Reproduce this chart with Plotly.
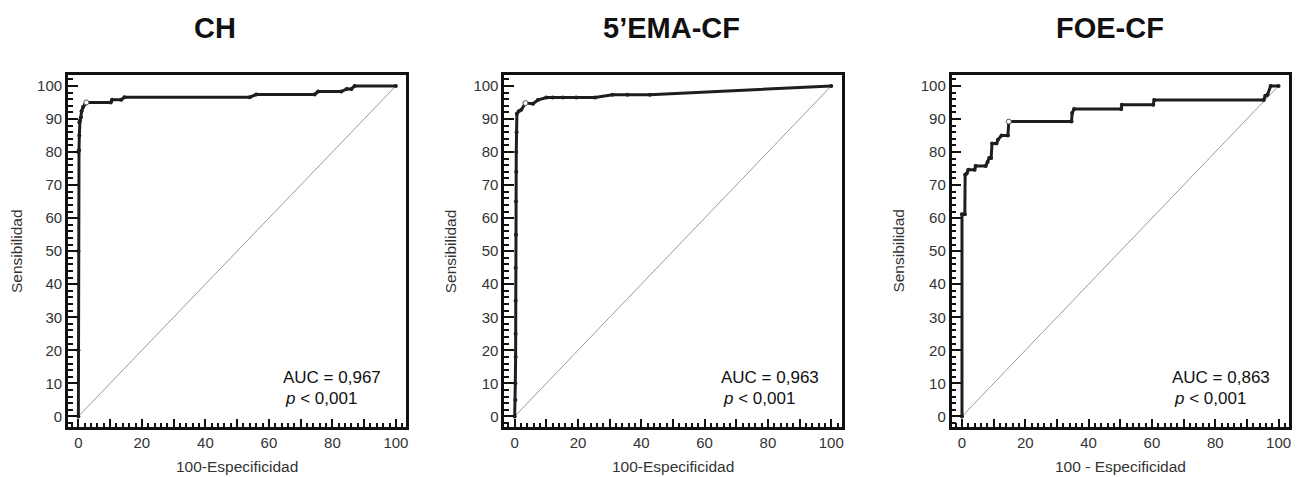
import plotly.graph_objects as go

W, H = 1303, 477

titles = ["CH", "5\u2019EMA-CF", "FOE-CF"]
auc_texts = ["AUC = 0,967", "AUC = 0,963", "AUC = 0,863"]
x_titles = ["100-Especificidad", "100-Especificidad", "100 - Especificidad"]
y_title = "Sensibilidad"

# ROC curve vertices (100-Especificidad, Sensibilidad)
ch_x = [0, 0, 0, 0, 0.2, 0.3, 0.3, 0.5, 0.8, 1.0, 1.5, 2.2, 2.5, 10.2, 10.6, 13.5, 14.5,
        54.0, 56.0, 74.4, 75.5, 82.8, 84.5, 86.0, 87.0, 100]
ch_y = [0, 20, 50, 80, 80.5, 85, 89, 89.5, 90.5, 92.3, 93.6, 94.6, 95.0, 95.0, 95.8, 95.8, 96.6,
        96.6, 97.4, 97.4, 98.3, 98.3, 99.1, 99.1, 100, 100]

ema_x = [0, 0.2, 0.2, 0.3, 0.3, 0.3, 0.3, 0.4, 0.4, 0.5, 0.5, 0.6, 0.7, 1.3, 2.1, 3.4, 5.8, 7.3,
         10.0, 12.0, 15.2, 19.4, 25.4, 30.9, 35.6, 42.7, 100]
ema_y = [0, 5, 10, 18, 25, 35, 45, 55, 65, 74, 80, 86, 91.6, 92.3, 92.8, 94.8, 94.6, 95.7,
         96.5, 96.5, 96.5, 96.5, 96.5, 97.3, 97.3, 97.3, 100]

foe_x = [0, 0, 0.9, 1.0, 1.5, 2.0, 4.0, 4.3, 7.5, 8.1, 8.6, 9.2, 9.5, 10.9, 11.4, 12.5, 14.5,
         14.8, 34.6, 34.8, 35.4, 50.3, 50.5, 60.4, 60.7, 95.3, 95.8, 96.5, 97.5, 100]
foe_y = [0, 61.2, 61.2, 73.1, 73.5, 74.6, 74.6, 75.8, 75.8, 77.0, 78.2, 78.2, 82.6, 82.6, 83.8,
         85.0, 85.0, 89.2, 89.2, 91.8, 93.0, 93.0, 94.3, 94.3, 95.7, 95.7, 97.0, 97.3, 100, 100]

# optimal cut-off points (open circles)
cut_x = [2.5, 3.4, 14.8]
cut_y = [95.0, 94.8, 89.2]

curves = [(ch_x, ch_y), (ema_x, ema_y), (foe_x, foe_y)]

x_domains = [[68 / W, 407 / W], [505 / W, 843 / W], [953 / W, 1291 / W]]
y_domain = [1 - 427 / H, 1 - 75 / H]

title_cx = [215, 673, 1112]
ytitle_cx = [17, 452, 900]
auc_left = [281, 720, 1172]

fig = go.Figure()
tick_font = dict(family="Liberation Sans, Arial, sans-serif", size=15, color="#333333")

annotations = []
for i in range(3):
    xa = "x" if i == 0 else f"x{i+1}"
    ya = "y" if i == 0 else f"y{i+1}"
    cx, cy = curves[i]
    fig.add_trace(go.Scatter(x=[0, 100], y=[0, 100], mode="lines",
                             line=dict(color="#9a9a9a", width=1),
                             xaxis=xa, yaxis=ya, showlegend=False, hoverinfo="skip"))
    fig.add_trace(go.Scatter(x=cx, y=cy, mode="lines+markers",
                             line=dict(color="#1e1e1e", width=3),
                             marker=dict(size=4, color="#1e1e1e"),
                             xaxis=xa, yaxis=ya, showlegend=False))
    fig.add_trace(go.Scatter(x=[cut_x[i]], y=[cut_y[i]], mode="markers",
                             marker=dict(size=5, color="white", symbol="circle",
                                         line=dict(color="#555555", width=1)),
                             xaxis=xa, yaxis=ya, showlegend=False))

    ax_common = dict(showline=True, linecolor="#111111", linewidth=2.5, mirror=True,
                     showgrid=False, zeroline=False, ticks="inside", tickcolor="#111111",
                     tickwidth=2, tickfont=tick_font)
    xkey = "xaxis" if i == 0 else f"xaxis{i+1}"
    ykey = "yaxis" if i == 0 else f"yaxis{i+1}"
    fig.update_layout({
        xkey: dict(ax_common, domain=x_domains[i], range=[-3.3, 103.3], anchor=ya,
                   tickmode="array", tickvals=list(range(0, 101, 10)),
                   ticktext=[str(v) if v % 20 == 0 else "" for v in range(0, 101, 10)],
                   ticklen=8,
                   minor=dict(dtick=2, tick0=0, ticks="inside", ticklen=4, tickwidth=1.5,
                              tickcolor="#111111", showgrid=False)),
        ykey: dict(ax_common, domain=y_domain, range=[-3.2, 103.3], anchor=xa,
                   tickmode="array", tickvals=list(range(0, 101, 10)),
                   ticklen=10,
                   minor=dict(dtick=2, tick0=0, ticks="inside", ticklen=5, tickwidth=1.5,
                              tickcolor="#111111", showgrid=False)),
    })

    annotations.append(dict(text=f"<b>{titles[i]}</b>", x=title_cx[i] / W, y=1 - 28 / H,
                            xref="paper", yref="paper", xanchor="center", yanchor="middle",
                            showarrow=False,
                            font=dict(family="Liberation Sans Narrow, Arial Narrow, sans-serif",
                                      size=29, color="#111111")))
    annotations.append(dict(text=y_title, x=ytitle_cx[i] / W, y=1 - 251 / H,
                            xref="paper", yref="paper", xanchor="center", yanchor="middle",
                            textangle=-90, showarrow=False,
                            font=dict(family="Liberation Sans, Arial, sans-serif", size=15.5,
                                      color="#333333")))
    annotations.append(dict(text=x_titles[i], x=(x_domains[i][0] + x_domains[i][1]) / 2,
                            y=1 - 466 / H, xref="paper", yref="paper",
                            xanchor="center", yanchor="middle", showarrow=False,
                            font=dict(family="Liberation Sans, Arial, sans-serif", size=15.5,
                                      color="#333333")))
    annotations.append(dict(text=auc_texts[i], x=auc_left[i] / W, y=1 - 377 / H,
                            xref="paper", yref="paper", xanchor="left", yanchor="middle",
                            showarrow=False,
                            font=dict(family="Liberation Sans, Arial, sans-serif", size=17,
                                      color="#111111")))
    annotations.append(dict(text="<i>p</i> < 0,001", x=(auc_left[i] + 2) / W, y=1 - 398 / H,
                            xref="paper", yref="paper", xanchor="left", yanchor="middle",
                            showarrow=False,
                            font=dict(family="Liberation Sans, Arial, sans-serif", size=17,
                                      color="#111111")))

fig.update_layout(width=W, height=H, margin=dict(l=0, r=0, t=0, b=0),
                  paper_bgcolor="white", plot_bgcolor="white",
                  annotations=annotations, showlegend=False)

fig.write_html("out.html")
